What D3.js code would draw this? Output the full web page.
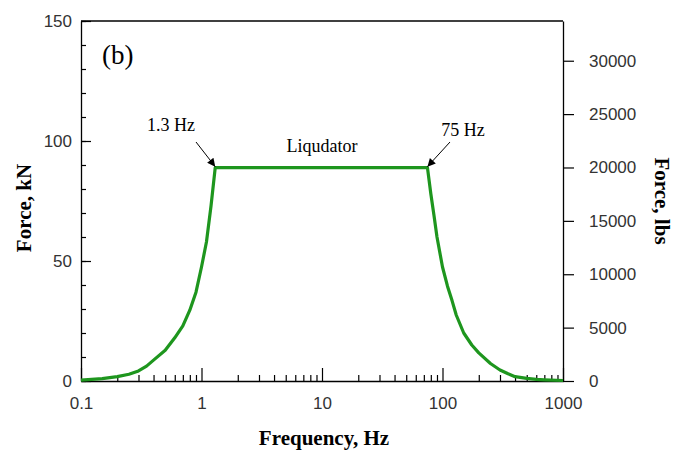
<!DOCTYPE html>
<html>
<head>
<meta charset="utf-8">
<script src="https://cdn.jsdelivr.net/npm/d3@7"></script>
<style>
  body { margin: 0; background: #fff; }
  .tick text { font-family: "Liberation Sans", Arial, sans-serif; font-size: 17px; fill: #333; }
  .ttl { font-family: "Liberation Serif", "Times New Roman", serif; fill: #000; }
</style>
</head>
<body>
<div id="chart"></div>
<script>
// frequency (Hz) and force (kN)
var freq = [0.1, 0.15, 0.2, 0.25, 0.3, 0.35, 0.4, 0.5, 0.6, 0.7, 0.8, 0.9, 1.0, 1.1, 1.2, 1.3,
            75, 80, 85, 90, 100, 110, 120, 130, 150, 175, 200, 250, 300, 350, 400, 500, 600, 700, 1000];
var force = [0.4, 1.0, 1.8, 2.8, 4.2, 6.2, 8.7, 12.8, 18, 23, 29.5, 37, 47.5, 58, 73, 88.9,
             88.9, 78, 69, 60, 47.5, 39.5, 33.5, 27.5, 20, 15, 11.7, 7.3, 4.6, 3.0, 1.8, 1.1, 0.7, 0.5, 0.2];

var x_ticks = [0.1, 1, 10, 100, 1000];
var kn_ticks = [0, 50, 100, 150];
var lbs_ticks = [0, 5000, 10000, 15000, 20000, 25000, 30000];

var notes = [
    { text: '1.3 Hz', f: 1.3, tx: 171, ty: 131, ax: 196, ay: 142 },
    { text: '75 Hz', f: 75, tx: 463, ty: 136, ax: 450, ay: 142 }
];

var chart_width = 675;
var chart_height = 452;
var m = { left: 81, right: 112, top: 21, bottom: 71 };

var svg = d3.select('#chart')
    .append('svg')
    .attr('width', chart_width)
    .attr('height', chart_height)

var x_scale = d3.scaleLog()
    .domain([0.1, 1000])
    .range([m.left, chart_width - m.right])

var y_scale = d3.scaleLinear()
    .domain([0, 150])
    .range([chart_height - m.bottom, m.top])

var lbs_scale = d3.scaleLinear()
    .domain([0, 150 * 224.809])
    .range([chart_height - m.bottom, m.top])

var x0 = m.left, x1 = chart_width - m.right;
var y0 = chart_height - m.bottom, y1 = m.top;

// frame top line
svg.append('line')
    .attr('x1', x0).attr('x2', x1)
    .attr('y1', y1).attr('y2', y1)
    .attr('stroke', '#000').attr('stroke-width', 1.3)

// left axis: minor ticks every 10 kN
var left_minor = d3.axisLeft(y_scale).tickValues(d3.range(0, 151, 10)).tickSize(-5).tickFormat('')
svg.append('g').attr('transform', 'translate(' + x0 + ',0)').call(left_minor)
    .call(function (g) { g.select('.domain').remove() })

var left_axis = d3.axisLeft(y_scale).tickValues(kn_ticks).tickSizeInner(-10).tickSizeOuter(0).tickPadding(9)
svg.append('g').attr('transform', 'translate(' + x0 + ',0)').call(left_axis)

// right axis in lbs, ticks outward
var right_axis = d3.axisRight(lbs_scale).tickValues(lbs_ticks).tickSizeInner(11).tickSizeOuter(0)
    .tickPadding(15).tickFormat(d3.format('d'))
svg.append('g').attr('transform', 'translate(' + x1 + ',0)').call(right_axis)

// bottom axis: minor ticks at 2..9 of each decade
var minor = [];
x_ticks.slice(0, -1).forEach(function (d) {
    for (var k = 2; k <= 9; k++) minor.push(d * k);
})
svg.append('g').attr('transform', 'translate(0,' + y0 + ')')
    .call(d3.axisBottom(x_scale).tickValues(minor).tickSize(-6).tickFormat(''))
    .call(function (g) { g.select('.domain').remove() })

var bottom_axis = d3.axisBottom(x_scale).tickValues(x_ticks).tickSizeInner(-13).tickSizeOuter(0)
    .tickPadding(16).tickFormat(function (d) { return String(d) })
svg.append('g').attr('transform', 'translate(0,' + y0 + ')').call(bottom_axis)

svg.selectAll('.domain').attr('stroke', '#000').attr('stroke-width', 1.3)
svg.selectAll('.tick line').attr('stroke', '#000').attr('stroke-width', 1.2)

// force curve
var line = d3.line()
    .x(function (d) { return x_scale(d[0]) })
    .y(function (d) { return y_scale(d[1]) })

svg.append('path')
    .datum(d3.zip(freq, force))
    .attr('d', line)
    .attr('fill', 'none')
    .attr('stroke', '#1e961e')
    .attr('stroke-width', 3.2)
    .attr('stroke-linejoin', 'round')

// arrows
svg.append('defs').append('marker')
    .attr('id', 'head')
    .attr('viewBox', '0 0 10 10')
    .attr('refX', 10).attr('refY', 5)
    .attr('markerWidth', 14).attr('markerHeight', 8)
    .attr('markerUnits', 'userSpaceOnUse')
    .attr('orient', 'auto')
    .append('path')
    .attr('d', 'M0,0 L10,5 L0,10 Z')
    .attr('fill', '#000')

var plateau = force[freq.indexOf(1.3)];

svg.selectAll('.note')
    .data(notes)
    .enter()
    .append('text')
    .attr('class', 'ttl')
    .attr('x', function (d) { return d.tx })
    .attr('y', function (d) { return d.ty })
    .attr('text-anchor', 'middle')
    .attr('font-size', 18)
    .text(function (d) { return d.text })

svg.selectAll('.arrow')
    .data(notes)
    .enter()
    .append('line')
    .attr('x1', function (d) { return d.ax })
    .attr('y1', function (d) { return d.ay })
    .attr('x2', function (d) { return x_scale(d.f) })
    .attr('y2', function (d) { return y_scale(plateau) - 1 })
    .attr('stroke', '#000')
    .attr('stroke-width', 1)
    .attr('marker-end', 'url(#head)')

svg.append('text').attr('class', 'ttl')
    .attr('x', 322).attr('y', 152)
    .attr('text-anchor', 'middle').attr('font-size', 18)
    .text('Liqudator')

svg.append('text').attr('class', 'ttl')
    .attr('x', 102).attr('y', 64)
    .attr('font-size', 27)
    .text('(b)')

svg.append('text').attr('class', 'ttl')
    .attr('x', (x0 + x1) / 2 + 2).attr('y', 445)
    .attr('text-anchor', 'middle').attr('font-size', 21).attr('font-weight', 'bold')
    .text('Frequency, Hz')

svg.append('text').attr('class', 'ttl')
    .attr('transform', 'translate(31,' + ((y0 + y1) / 2 + 7) + ') rotate(-90)')
    .attr('text-anchor', 'middle').attr('font-size', 21).attr('font-weight', 'bold')
    .text('Force, kN')

svg.append('text').attr('class', 'ttl')
    .attr('transform', 'translate(655,' + ((y0 + y1) / 2) + ') rotate(90)')
    .attr('text-anchor', 'middle').attr('font-size', 21).attr('font-weight', 'bold')
    .text('Force, lbs')
</script>
</body>
</html>
